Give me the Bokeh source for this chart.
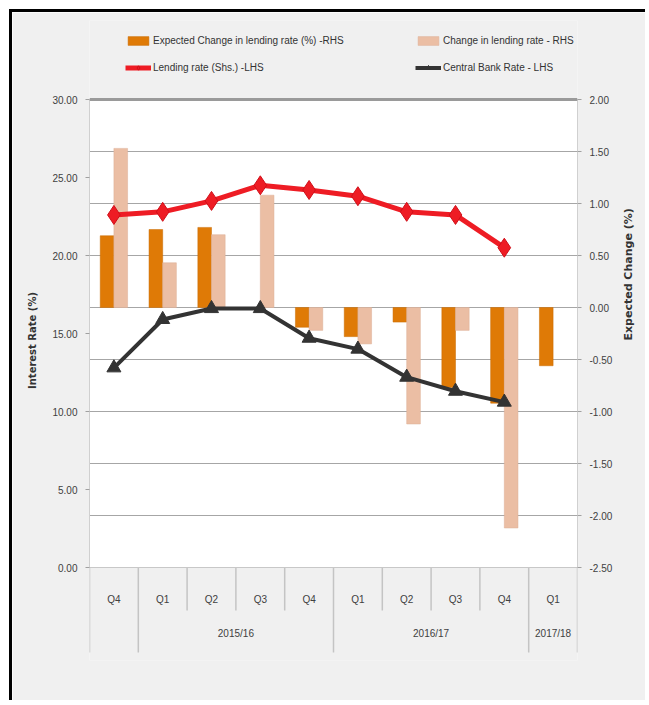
import math
from bokeh.plotting import figure
from bokeh.models import (FactorRange, Range1d, LinearAxis, FixedTicker, Grid, Span,
                          BoxAnnotation, ColumnDataSource, Legend, LegendItem,
                          NumeralTickFormatter)
from bokeh.transform import dodge
from bokeh.embed import file_html
from bokeh.resources import INLINE

nan = float("nan")

# ---- data ----
years = ["", "2015/16", "2015/16", "2015/16", "2015/16",
         "2016/17", "2016/17", "2016/17", "2016/17", "2017/18"]
quarters = ["Q4", "Q1", "Q2", "Q3", "Q4", "Q1", "Q2", "Q3", "Q4", "Q1"]
expected_change = [0.69, 0.75, 0.77, nan, -0.19, -0.28, -0.14, -0.77, -0.92, -0.56]
actual_change = [1.53, 0.43, 0.70, 1.08, -0.22, -0.35, -1.12, -0.22, -2.12, nan]
lending_rate = [22.6, 22.8, 23.5, 24.5, 24.2, 23.8, 22.8, 22.6, 20.5, nan]
central_bank_rate = [12.8, 15.9, 16.6, 16.6, 14.7, 14.0, 12.2, 11.3, 10.6, nan]
left_ticks = [0, 5, 10, 15, 20, 25, 30]
right_ticks = [-2.5, -2.0, -1.5, -1.0, -0.5, 0.0, 0.5, 1.0, 1.5, 2.0]

FONT = "Liberation Sans"
TXT = "#404040"

# layout (pixels)
PLOT_H = 468          # height of the 0..30 plotting band
HEAD = 79             # legend band above it, inside the frame
FOOT = 93             # category table band below it, inside the frame
SEP_SHORT = 43        # quarter separators length
SEP_LONG = 85         # year separators length
LMIN, LMAX = 0.0, 30.0
RMIN, RMAX = -2.5, 2.0
lpx = (LMAX - LMIN) / PLOT_H
rpx = (RMAX - RMIN) / PLOT_H

factors = list(zip(years, quarters))
src = ColumnDataSource(dict(x=factors, exp=expected_change, act=actual_change,
                            lend=lending_rate, cbr=central_bank_rate))

# separators of the category table (synthetic category boundaries)
n = len(factors)
bounds_x = list(range(n + 1))
is_long = [i == 0 or i == n or years[i] != years[i - 1] for i in range(n + 1)]
sep_src = ColumnDataSource(dict(
    x=bounds_x,
    y0=[LMIN] * (n + 1),
    y1=[LMIN - (SEP_LONG if lg else SEP_SHORT) * lpx for lg in is_long]))

p = figure(width=636, height=691, output_backend="svg", toolbar_location=None,
           x_range=FactorRange(*factors, factor_padding=0, group_padding=0, range_padding=0),
           y_range=Range1d(LMIN - FOOT * lpx, LMAX + HEAD * lpx),
           min_border_left=77, min_border_right=71, min_border_top=8, min_border_bottom=43,
           border_fill_color="#f0f0f0", background_fill_color="#f0f0f0",
           outline_line_color=None)
p.margin = (9, 0, 0, 9)
p.styles = {"border-top": "3px solid black", "border-left": "3px solid black"}

p.extra_y_ranges = {"rhs": Range1d(RMIN - FOOT * rpx, RMAX + HEAD * rpx)}

# white plotting band
p.add_layout(BoxAnnotation(bottom=LMIN, top=LMAX, fill_color="white", fill_alpha=1,
                           line_color=None, level="underlay"))

# grid from right axis ticks
p.ygrid.visible = False
p.xgrid.visible = False
grid = Grid(dimension=1, ticker=FixedTicker(ticks=right_ticks), y_range_name="rhs",
            grid_line_color="#a6a6a6", grid_line_width=1, level="underlay")
p.add_layout(grid)
p.add_layout(Span(location=RMAX, dimension="width", y_range_name="rhs",
                  line_color="#9a9a9a", line_width=3))

# category table separators
p.segment(x0="x", y0="y0", x1="x", y1="y1", source=sep_src,
          line_color="#c4c4c4", line_width=1.5)

# bars (RHS)
rb1 = p.vbar(x=dodge("x", -0.14, range=p.x_range), top="exp", bottom=0, width=0.28,
             source=src, y_range_name="rhs", fill_color="#df7a06", line_color="#c86a00",
             line_width=0.5)
rb2 = p.vbar(x=dodge("x", 0.14, range=p.x_range), top="act", bottom=0, width=0.28,
             source=src, y_range_name="rhs", fill_color="#ebbea4", line_color="#dcae94",
             line_width=0.5)

# lines (LHS)
rl1 = p.line(x="x", y="lend", source=src, line_color="#ee1c24", line_width=5)
rm1 = p.scatter(x="x", y="lend", source=src, marker="diamond", size=19,
                fill_color="#ee1c24", line_color="#d0101a")
rl2 = p.line(x="x", y="cbr", source=src, line_color="#333333", line_width=4)
rm2 = p.scatter(x="x", y="cbr", source=src, marker="triangle", size=14,
                fill_color="#333333", line_color="#333333")

# left axis
la = p.yaxis[0]
la.ticker = FixedTicker(ticks=left_ticks)
la.bounds = (LMIN, LMAX)
la.formatter = NumeralTickFormatter(format="0.00")
la.axis_line_color = "#d0d0d0"
la.major_tick_line_color = "#a0a0a0"
la.major_tick_out = 4
la.major_tick_in = 0
la.minor_tick_line_color = None
la.major_label_text_font = FONT
la.major_label_text_font_size = "10px"
la.major_label_text_color = TXT
la.major_label_standoff = 8
la.axis_label = "Interest Rate (%)"
la.axis_label_text_font = "DejaVu Sans"
la.axis_label_text_font_size = "10px"
la.axis_label_text_font_style = "bold"
la.axis_label_text_color = "#333333"
la.axis_label_standoff = 11

# right axis
ra = LinearAxis(y_range_name="rhs", ticker=FixedTicker(ticks=right_ticks),
                formatter=NumeralTickFormatter(format="0.00"), bounds=(RMIN, RMAX))
ra.axis_line_color = "#d0d0d0"
ra.major_tick_line_color = "#a0a0a0"
ra.major_tick_out = 4
ra.major_tick_in = 0
ra.minor_tick_line_color = None
ra.major_label_text_font = FONT
ra.major_label_text_font_size = "10px"
ra.major_label_text_color = TXT
ra.major_label_standoff = 8
ra.axis_label = "Expected  Change  (%)"
ra.axis_label_text_font = "DejaVu Sans"
ra.axis_label_text_font_size = "11px"
ra.axis_label_text_font_style = "bold"
ra.axis_label_text_color = "#333333"
ra.axis_label_standoff = 13
if "axis_label_orientation" in ra.properties():
    ra.axis_label_orientation = math.pi / 2
p.add_layout(ra, "right")

# x axis (drawn at y = 0, inside the table band)
xa = p.xaxis[0]
xa.fixed_location = LMIN
xa.axis_line_color = "#c8c8c8"
xa.major_tick_line_color = None
xa.minor_tick_line_color = None
xa.major_label_text_font = FONT
xa.major_label_text_font_size = "10px"
xa.major_label_text_color = TXT
xa.group_text_font = FONT
xa.group_text_font_size = "10px"
xa.group_text_color = TXT
xa.group_text_font_style = "normal"
xa.separator_line_color = None
xa.major_label_standoff = 20

# legend (inside the top band of the frame)
items = [
    LegendItem(label="Expected Change in lending rate (%) -RHS", renderers=[rb1]),
    LegendItem(label="Change in lending rate - RHS", renderers=[rb2]),
    LegendItem(label="Lending rate (Shs.) -LHS", renderers=[rl1, rm1]),
    LegendItem(label="Central Bank Rate - LHS", renderers=[rl2, rm2]),
]
leg = Legend(items=items, ncols=2, orientation="horizontal", location=(36, 486 + FOOT),
             background_fill_alpha=0, border_line_color=None,
             label_text_font=FONT, label_text_font_size="10px", label_text_color="#333333",
             glyph_width=26, glyph_height=11, label_height=27, label_width=262,
             label_standoff=2, spacing=0, padding=0, margin=0)
p.add_layout(leg, "center")

open("out.html", "w").write(file_html(p, INLINE))
